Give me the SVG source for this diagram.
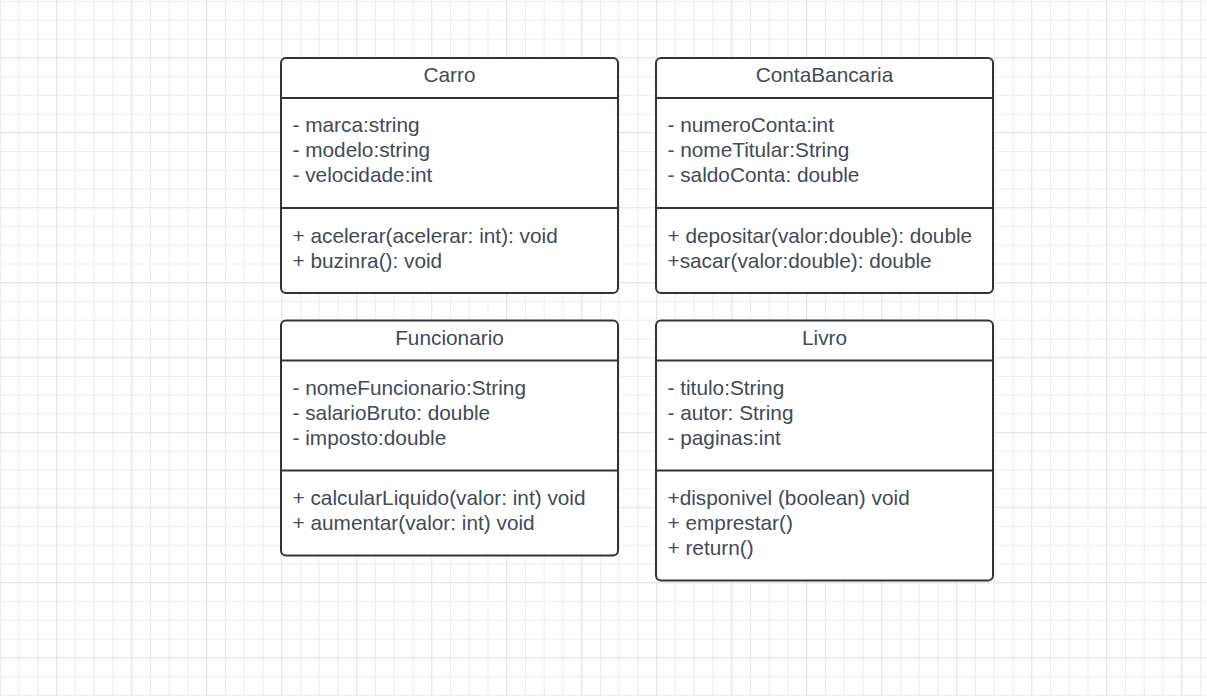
<svg xmlns="http://www.w3.org/2000/svg" width="1207" height="696" viewBox="0 0 1207 696">
<defs>
<pattern id="grid" patternUnits="userSpaceOnUse" x="0" y="1" width="75" height="75">
<rect x="0" y="0" width="75" height="75" fill="#ffffff"/>
<g fill="#ededed">
<rect x="0" y="0" width="1" height="75"/>
<rect x="18.75" y="0" width="1" height="75"/>
<rect x="37.5" y="0" width="1" height="75"/>
<rect x="0" y="0" width="75" height="1"/>
<rect x="0" y="18.75" width="75" height="1"/>
<rect x="0" y="37.5" width="75" height="1"/>
</g>
<g fill="#e0e0e0">
<rect x="56.25" y="0" width="1" height="75"/>
<rect x="0" y="56.25" width="75" height="1"/>
</g>
</pattern>
</defs>
<style>
.box{fill:#ffffff;stroke:#2f343c;stroke-width:2}
.ln{stroke:#2f343c;stroke-width:2}
.t{font-family:"Liberation Sans",Arial,sans-serif;font-size:20.8px;fill:#434a54}
.title{text-anchor:middle}
</style>
<rect x="0" y="0" width="1207" height="696" fill="url(#grid)"/>
<g id="connectors"></g>
<g id="carro">
<rect class="box" x="281" y="58" width="337" height="235" rx="5"/>
<line class="ln" x1="281" y1="98" x2="618" y2="98"/>
<line class="ln" x1="281" y1="208" x2="618" y2="208"/>
<text class="t title" x="449.5" y="82">Carro</text>
<text class="t" x="292.5" y="132">- marca:string</text>
<text class="t" x="292.5" y="157">- modelo:string</text>
<text class="t" x="292.5" y="182">- velocidade:int</text>
<text class="t" x="292.5" y="243">+ acelerar(acelerar: int): void</text>
<text class="t" x="292.5" y="268">+ buzinra(): void</text>
</g>
<g id="contabancaria">
<rect class="box" x="656" y="58" width="337" height="235" rx="5"/>
<line class="ln" x1="656" y1="98" x2="993" y2="98"/>
<line class="ln" x1="656" y1="208" x2="993" y2="208"/>
<text class="t title" x="824.5" y="82">ContaBancaria</text>
<text class="t" x="667.5" y="132">- numeroConta:int</text>
<text class="t" x="667.5" y="157">- nomeTitular:String</text>
<text class="t" x="667.5" y="182">- saldoConta: double</text>
<text class="t" x="667.5" y="243">+ depositar(valor:double): double</text>
<text class="t" x="667.5" y="268">+sacar(valor:double): double</text>
</g>
<g id="funcionario">
<rect class="box" x="281" y="320.5" width="337" height="235" rx="5"/>
<line class="ln" x1="281" y1="360.5" x2="618" y2="360.5"/>
<line class="ln" x1="281" y1="470.5" x2="618" y2="470.5"/>
<text class="t title" x="449.5" y="345">Funcionario</text>
<text class="t" x="292.5" y="395">- nomeFuncionario:String</text>
<text class="t" x="292.5" y="420">- salarioBruto: double</text>
<text class="t" x="292.5" y="445">- imposto:double</text>
<text class="t" x="292.5" y="505">+ calcularLiquido(valor: int) void</text>
<text class="t" x="292.5" y="530">+ aumentar(valor: int) void</text>
</g>
<g id="livro">
<rect class="box" x="656" y="320.5" width="337" height="260" rx="5"/>
<line class="ln" x1="656" y1="360.5" x2="993" y2="360.5"/>
<line class="ln" x1="656" y1="470.5" x2="993" y2="470.5"/>
<text class="t title" x="824.5" y="345">Livro</text>
<text class="t" x="667.5" y="395">- titulo:String</text>
<text class="t" x="667.5" y="420">- autor: String</text>
<text class="t" x="667.5" y="445">- paginas:int</text>
<text class="t" x="667.5" y="505">+disponivel (boolean) void</text>
<text class="t" x="667.5" y="530">+ emprestar()</text>
<text class="t" x="667.5" y="555">+ return()</text>
</g>
</svg>
